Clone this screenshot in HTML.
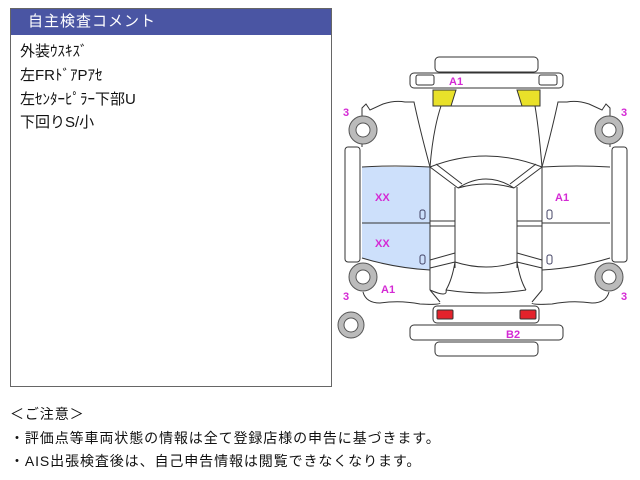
<!DOCTYPE html>
<html><head><meta charset="utf-8"><style>
body{margin:0;width:640px;height:480px;background:#fff;position:relative;overflow:hidden;font-family:"Liberation Sans","Noto Sans CJK JP",sans-serif;}
.box{position:absolute;left:10px;top:8px;width:322px;height:379px;border:1px solid #666;box-sizing:border-box;}
.hd{position:absolute;left:0;top:0;right:0;height:26px;background:#4a55a3;color:#fff;font-size:15px;line-height:26px;padding-left:17px;letter-spacing:1px;}
.ln{position:absolute;left:9px;font-size:15px;color:#111;}
.nt{position:absolute;left:10px;font-size:14px;color:#111;letter-spacing:0.9px;white-space:nowrap;}
svg{position:absolute;left:0;top:0}
</style></head><body>
<div class="box"><div class="hd">自主検査コメント</div>
<div class="ln" style="top:31px">外装ｳｽｷｽﾞ</div>
<div class="ln" style="top:55px">左FRﾄﾞｱPｱｾ</div>
<div class="ln" style="top:79px">左ｾﾝﾀｰﾋﾟﾗｰ下部U</div>
<div class="ln" style="top:102px">下回りS/小</div>
</div>
<div class="nt" style="top:404px">＜ご注意＞</div>
<div class="nt" style="top:428px">・評価点等車両状態の情報は全て登録店様の申告に基づきます。</div>
<div class="nt" style="top:451px">・AIS出張検査後は、自己申告情報は閲覧できなくなります。</div>
<svg width="640" height="480" viewBox="0 0 640 480" fill="none" stroke="#333" stroke-width="1">
<path d="M362 167 H430 V270 Q395 268 362 258 Z" fill="#cde0fb" stroke="none"/>
<rect x="435" y="57" width="103" height="15" rx="4" fill="#fff"/>
<rect x="410" y="73" width="153" height="15" rx="4" fill="#fff"/>
<rect x="416" y="75" width="18" height="10" rx="2"/>
<rect x="539" y="75" width="18" height="10" rx="2"/>
<path d="M433 90 H456 L451 106 H433 Z" fill="#e9e12a"/>
<path d="M517 90 H540 V106 H522 Z" fill="#e9e12a"/>
<path d="M441 106 H535"/>
<path d="M362 147 V108 L366 104 L370 110 L383 104 Q395 100 405 102 L414 102 Q420 130 430 167"/>
<path d="M610 147 V108 L606 104 L602 110 L589 104 Q577 100 567 102 L558 102 Q552 130 542 167"/>
<path d="M441 106 Q433 130 430 167 M535 106 Q539 130 542 167"/>
<path d="M362 167 Q395 165 430 167 M542 167 Q577 165 610 167"/>
<path d="M430 167 Q486 145 542 167"/>
<path d="M430 167 L458 188 M436 164 L462 184 M542 167 L514 188 M536 164 L510 184"/>
<path d="M458 188 Q486 170 514 188"/>
<path d="M455 187 V268 M517 187 V268"/>
<path d="M458 188 Q486 180 514 188"/>
<path d="M430 167 V290 M542 167 V290"/>
<path d="M430 221 H455 M430 226 H455 M517 221 H542 M517 226 H542"/>
<path d="M362 223 H430 M542 223 H610"/>
<path d="M362 258 Q395 268 430 270 M610 258 Q577 268 542 270"/>
<path d="M430 260 L455 253 M430 268 L455 262 M542 260 L517 253 M542 268 L517 262"/>
<path d="M455 262 Q486 272 517 262"/>
<path d="M455 262 Q452 280 446 290 M517 262 Q520 280 526 290"/>
<path d="M446 290 Q486 296 526 290 M430 290 Q448 298 446 290"/>
<path d="M430 290 L440 302 M542 290 L532 302"/>
<path d="M363 292 Q366 303 380 303 Q400 300 420 304 Q440 305 440 303 M609 292 Q606 303 592 303 Q572 300 552 304 Q532 305 532 303"/>
<rect x="345" y="147" width="15" height="115" rx="3" fill="#fff"/>
<rect x="612" y="147" width="15" height="115" rx="3" fill="#fff"/>
<rect x="433" y="306" width="106" height="17" rx="4" fill="#fff"/>
<rect x="437" y="310" width="16" height="9" rx="1" fill="#e3222b"/>
<rect x="520" y="310" width="16" height="9" rx="1" fill="#e3222b"/>
<rect x="410" y="325" width="153" height="15" rx="4" fill="#fff"/>
<rect x="435" y="342" width="103" height="14" rx="4" fill="#fff"/>
<g fill="#fff" stroke="#555"><circle cx="363" cy="130" r="14" fill="#bbb"/><circle cx="363" cy="130" r="7"/>
<circle cx="609" cy="130" r="14" fill="#bbb"/><circle cx="609" cy="130" r="7"/>
<circle cx="363" cy="277" r="14" fill="#bbb"/><circle cx="363" cy="277" r="7"/>
<circle cx="609" cy="277" r="14" fill="#bbb"/><circle cx="609" cy="277" r="7"/>
<circle cx="351" cy="325" r="13" fill="#bbb"/><circle cx="351" cy="325" r="7"/></g>
<g stroke="#446" stroke-width="1"><rect x="420" y="210" width="5" height="9" rx="2"/><rect x="420" y="255" width="5" height="9" rx="2"/><rect x="547" y="210" width="5" height="9" rx="2"/><rect x="547" y="255" width="5" height="9" rx="2"/></g>
<g fill="#d42ad4" stroke="none" font-family="Liberation Sans,sans-serif" font-weight="bold" font-size="11">
<text x="449" y="85">A1</text><text x="343" y="116">3</text><text x="621" y="116">3</text>
<text x="375" y="201">XX</text><text x="375" y="247">XX</text><text x="555" y="201">A1</text>
<text x="381" y="293">A1</text><text x="343" y="300">3</text><text x="621" y="300">3</text>
<text x="506" y="338">B2</text></g>
</svg>
</body></html>
